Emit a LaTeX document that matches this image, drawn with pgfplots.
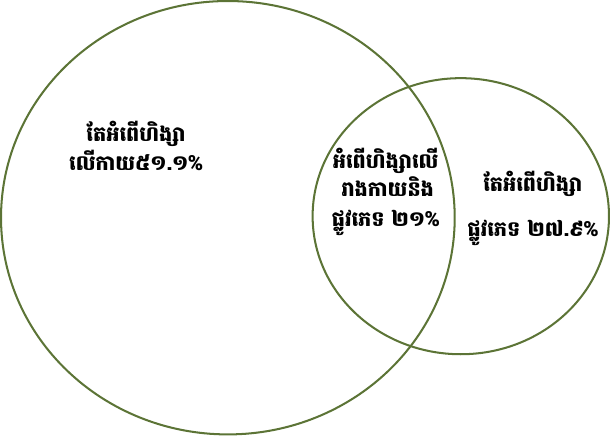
\documentclass[border=0pt]{standalone}
\usepackage{fontspec}
\usepackage{pgfplots}
\pgfplotsset{compat=1.18}
\newfontfamily\khmer[Script=Khmer]{Battambang}
\definecolor{vennline}{RGB}{92,116,54}

\begin{document}
\begin{tikzpicture}
\begin{axis}[
  scale only axis,
  width=610pt, height=437pt,
  xmin=0, xmax=610, ymin=0, ymax=437,
  y dir=reverse,
  hide axis, clip=false,
]
% two sets, drawn in pixel units of the reference
\draw[vennline, line width=2pt] (axis cs:229.5,218.5) ellipse [x radius=223.5, y radius=213.5];
\draw[vennline, line width=2pt] (axis cs:459,217) ellipse [x radius=146, y radius=136];

\begin{scope}[every node/.style={anchor=base, inner sep=0pt, font=\khmer\bfseries\fontsize{20.5}{24}\selectfont}]
% physical only
\node at (axis cs:139,143) {តែអំពើហិង្សា};
\node at (axis cs:139,172) {លើកាយ៥១.១\%};
% both
\node at (axis cs:385,170) {អំពើហិង្សាលើ};
\node at (axis cs:387,198) {រាងកាយនិង};
\node at (axis cs:385,227) {ផ្លូវភេទ ២១\%};
% sexual only
\node at (axis cs:530,193) {តែអំពើហិង្សា};
\node at (axis cs:530,237) {ផ្លូវភេទ ២៧.៩\%};
\end{scope}
\end{axis}
\end{tikzpicture}
\end{document}
